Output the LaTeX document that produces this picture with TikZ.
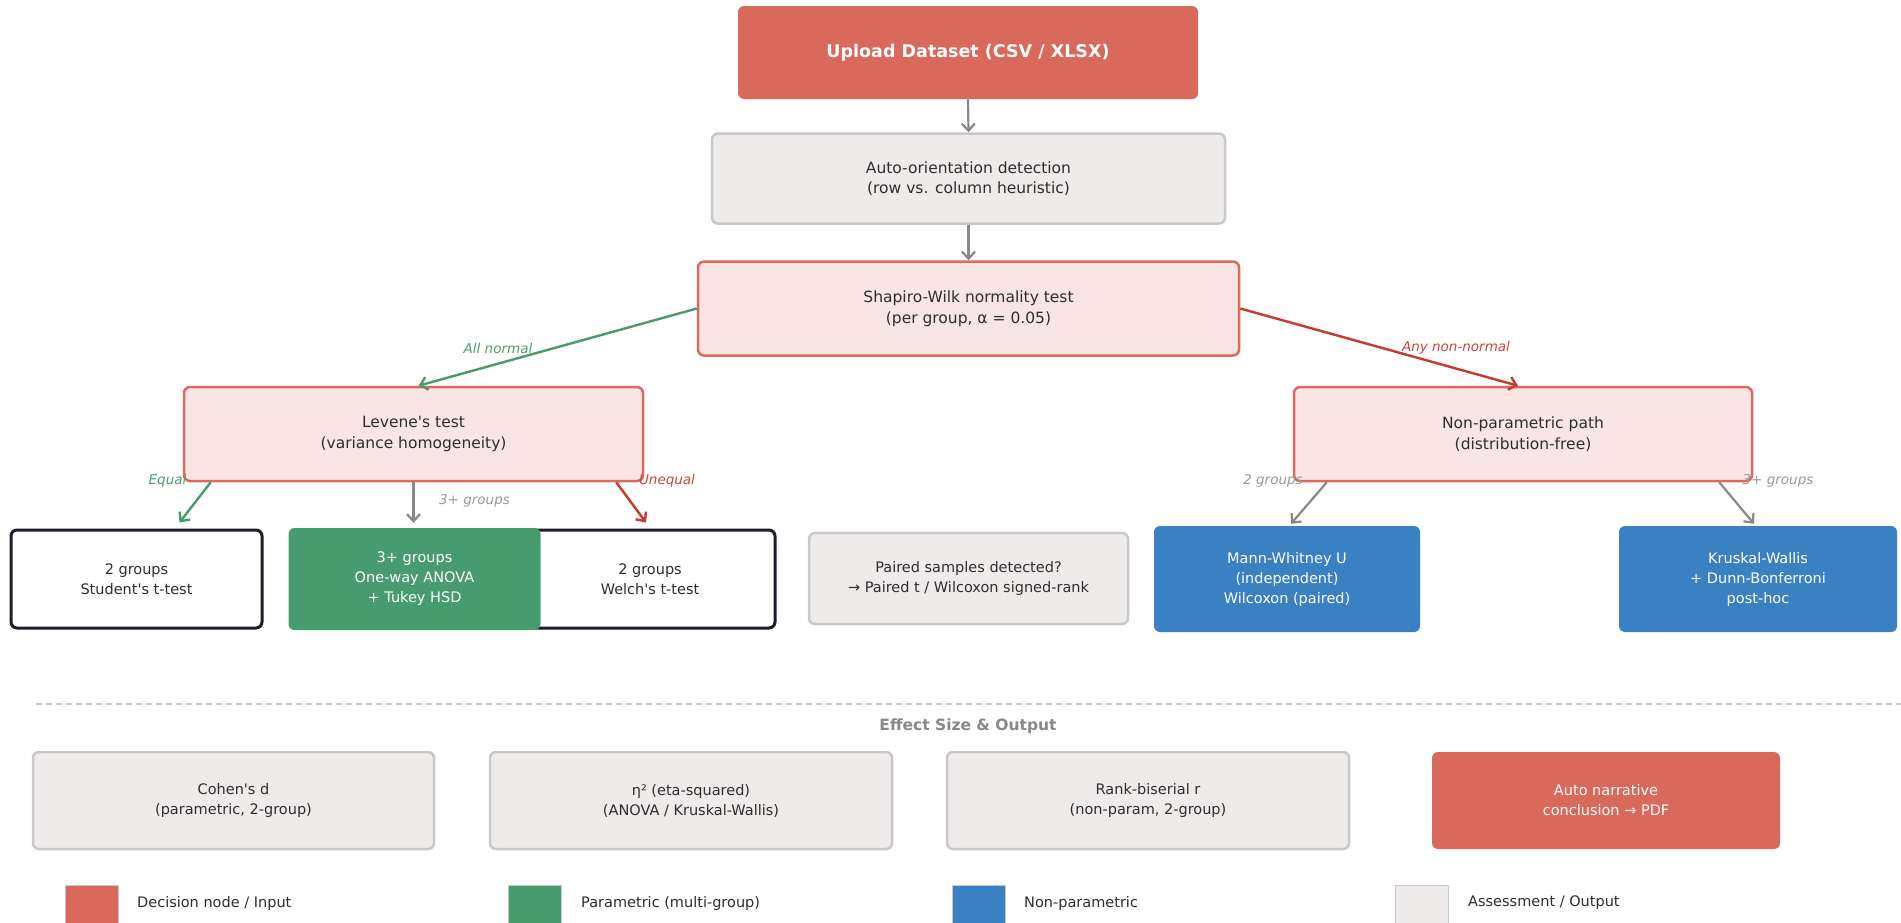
\documentclass[tikz,border=0pt]{standalone}
\usepackage{fontspec}
\setmainfont{DejaVu Sans}
\usetikzlibrary{arrows.meta,calc}
\definecolor{redf}{HTML}{D9695A}
\definecolor{greenf}{HTML}{469C6E}
\definecolor{bluef}{HTML}{3A81C3}
\definecolor{greyf}{HTML}{EEEBEA}
\definecolor{greyl}{HTML}{C8C8C8}
\definecolor{pinkf}{HTML}{FAE5E5}
\definecolor{pinkl}{HTML}{DD6B5B}
\definecolor{darkl}{HTML}{1C1C2A}
\definecolor{txt}{HTML}{2E2E2E}
\definecolor{arrg}{HTML}{888888}
\definecolor{arrgreen}{HTML}{4A9A6C}
\definecolor{arrred}{HTML}{C8392B}
\definecolor{lblgreen}{HTML}{4C9F70}
\definecolor{lblred}{HTML}{C8473A}
\definecolor{lblgrey}{HTML}{999999}
\definecolor{sepc}{HTML}{CCCCCC}
\newcommand{\fsA}{\fontsize{15.5}{20.5}\selectfont}
\newcommand{\fsB}{\fontsize{14.5}{20}\selectfont}
\newcommand{\fsL}{\fontsize{13.5}{16}\selectfont\itshape}
\newcommand{\sq}{\textquotesingle}
\tikzset{
  boxbase/.style={rectangle, rounded corners=6pt, align=center, inner sep=0pt, text=txt},
  redbox/.style={boxbase, fill=redf, text=white},
  greybox/.style={boxbase, fill=greyf, draw=greyl, line width=2.5pt},
  pinkbox/.style={boxbase, fill=pinkf, draw=pinkl, line width=2.5pt, font=\fsA},
  whitebox/.style={boxbase, fill=white, draw=darkl, line width=3pt, font=\fsB},
  greenbox/.style={boxbase, fill=greenf, text=white, font=\fsB},
  bluebox/.style={boxbase, fill=bluef, text=white, font=\fsB},
  conn/.style={line width=2.2pt, -{Straight Barb[length=7pt,width=13pt]}},
  greyarr/.style={conn, draw=arrg},
  greenarr/.style={conn, draw=arrgreen, line width=2.4pt},
  redarr/.style={conn, draw=arrred, line width=2.4pt},
  lbl/.style={inner sep=0pt, font=\fsL},
  legsq/.style={rectangle, anchor=north west, minimum width=53pt, minimum height=55pt, inner sep=0pt, line width=1pt},
  legtxt/.style={anchor=west, inner sep=0pt, font=\fsB, text=txt}
}
\begin{document}
\begin{tikzpicture}[x=1pt,y=-1pt]
\useasboundingbox[fill=white] (0,0) rectangle (1901,922);

% top chain
\node[redbox, minimum width=460pt, minimum height=93pt, font=\fontsize{17.5}{21}\selectfont\bfseries] (upload) at (968,52.5) {Upload Dataset (CSV / XLSX)};
\node[greybox, minimum width=513pt, minimum height=90pt, font=\fsA] (auto) at (968.5,178.5) {Auto-orientation detection\\(row vs. column heuristic)};
\node[pinkbox, minimum width=541pt, minimum height=94pt] (shap) at (968.5,308.5) {Shapiro-Wilk normality test\\(per group, α = 0.05)};

% second level
\node[pinkbox, minimum width=459pt, minimum height=94pt] (lev) at (413.5,434) {Levene\sq s test\\(variance homogeneity)};
\node[pinkbox, minimum width=458pt, minimum height=94pt] (np) at (1523,434) {Non-parametric path\\(distribution-free)};

% third level
\node[whitebox, minimum width=251pt, minimum height=98pt] (stud) at (136.5,579) {2 groups\\Student\sq s t-test};
\node[whitebox, minimum width=250pt, minimum height=98pt] (welch) at (650,579) {2 groups\\Welch\sq s t-test};
\node[greenbox, minimum width=252pt, minimum height=102pt] (anova) at (414.5,579) {3+ groups\\One-way ANOVA\\+ Tukey HSD};
\node[greybox, minimum width=319pt, minimum height=91pt, font=\fsB] (paired) at (968.5,578.5) {Paired samples detected?\\→ Paired t / Wilcoxon signed-rank};
\node[bluebox, minimum width=266pt, minimum height=106pt] (mann) at (1287,579) {Mann-Whitney U\\(independent)\\Wilcoxon (paired)};
\node[bluebox, minimum width=278pt, minimum height=106pt] (krus) at (1758,579) {Kruskal-Wallis\\+ Dunn-Bonferroni\\post-hoc};

% connectors
\draw[greyarr] (upload.south) -- (auto.north);
\draw[greyarr] (auto.south) -- (shap.north);
\draw[greenarr] (shap.west) -- ($(lev.north)+(5,0)$);
\draw[redarr] (shap.east) -- ($(np.north)+(-5,0)$);
\draw[greenarr] ($(lev.south west)+(28,0)$) -- ($(stud.north)+(43,-6)$);
\draw[greyarr] (lev.south) -- ($(anova.north)+(-1,-5)$);
\draw[redarr] ($(lev.south east)+(-28,0)$) -- ($(welch.north)+(-4,-6)$);
\draw[greyarr] ($(np.south west)+(34,0)$) -- ($(mann.north)+(4,-2)$);
\draw[greyarr] ($(np.south east)+(-34,0)$) -- ($(krus.north)+(-4,-2)$);

% labels
\node[lbl, text=lblgreen] (lblall) at (498,348) {All normal};
\node[lbl, text=lblred] (lblany) at (1456,348) {Any non-normal};
\node[lbl, text=lblgreen] (lbleq) at (167.5,481) {Equal};
\node[lbl, text=lblred] (lblneq) at (667,481) {Unequal};
\node[lbl, text=lblgrey] (lbl3a) at (474.5,501) {3+ groups};
\node[lbl, text=lblgrey] (lbl2) at (1273,481) {2 groups};
\node[lbl, text=lblgrey] (lbl3b) at (1778,481) {3+ groups};

% separator
\coordinate (sepa) at (36,704);
\coordinate (sepb) at (1901,704);
\draw[sepc, line width=1.8pt, dash pattern=on 6pt off 4pt] (sepa) -- (sepb);
\node[inner sep=0pt, text=arrg, font=\fontsize{15.5}{18}\selectfont\bfseries] (eff) at (968,726) {Effect Size \& Output};

% bottom row
\node[greybox, minimum width=401pt, minimum height=97pt, font=\fsB] (cohen) at (233.5,800.5) {Cohen\sq s d\\(parametric, 2-group)};
\node[greybox, minimum width=402pt, minimum height=97pt, font=\fsB] (eta) at (691,800.5) {η² (eta-squared)\\(ANOVA / Kruskal-Wallis)};
\node[greybox, minimum width=402pt, minimum height=97pt, font=\fsB] (rank) at (1148,800.5) {Rank-biserial r\\(non-param, 2-group)};
\node[redbox, minimum width=348pt, minimum height=97pt, font=\fsB] (narr) at (1606,800.5) {Auto narrative\\conclusion → PDF};

% legend
\node[legsq, fill=redf, draw=greyl] (lg1) at (65,885) {};
\node[legtxt] (lt1) at (137,903) {Decision node / Input};
\node[legsq, fill=greenf, draw=greyl] (lg2) at (508,885) {};
\node[legtxt] (lt2) at (581,903) {Parametric (multi-group)};
\node[legsq, fill=bluef, draw=greyl] (lg3) at (952,885) {};
\node[legtxt] (lt3) at (1024,903) {Non-parametric};
\node[legsq, fill=greyf, draw=greyl] (lg4) at (1395,885) {};
\node[legtxt] (lt4) at (1468,903) {Assessment / Output};
\end{tikzpicture}
\end{document}
